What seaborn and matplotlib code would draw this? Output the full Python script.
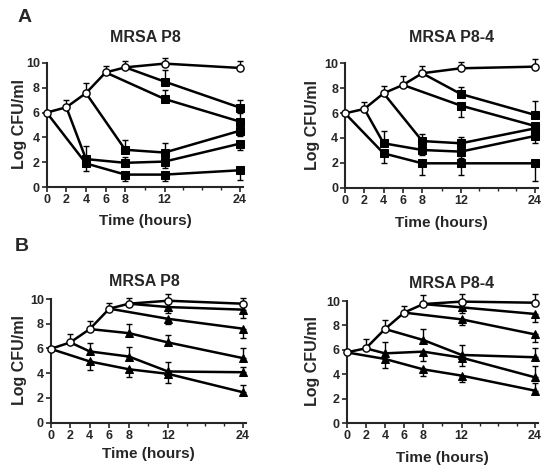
import numpy as np
import matplotlib
matplotlib.use("Agg")
import matplotlib.pyplot as plt
import seaborn as sns

# sampling times (hours)
times = [0, 2, 4, 6, 8, 12, 24]
tick_labels = ["0", "2", "4", "6", "8", "12", "24"]
# times at which the drug was added, and the sampling times that follow
add_times = [0, 2, 4, 6, 8]
after_times = [[4, 8, 12, 24], [4, 8, 12, 24], [8, 12, 24], [12, 24], [12, 24]]

# error values: positive = bar drawn upward, negative = drawn downward
# A, MRSA P8
a_p8_ctrl = [6.0, 6.43, 7.57, 9.24, 9.65, 9.95, 9.6]
a_p8_ctrl_err = [0, 0.6, 0.8, 0.5, 0.55, 0.45, 0.6]
a_p8_drug = [[1.9, 1.0, 1.0, 1.35], [2.25, 1.95, 2.05, 3.5], [3.0, 2.78, 4.54],
             [7.1, 5.27], [8.5, 6.4]]
a_p8_drug_err = [[-0.6, -0.5, -0.5, -0.8], [1.05, 0.45, -0.55, -0.55], [0.78, 0.73, -0.45],
                 [0.7, 0.7], [0.9, 0.6]]

# A, MRSA P8-4
a_p84_ctrl = [5.98, 6.33, 7.59, 8.26, 9.2, 9.6, 9.73]
a_p84_ctrl_err = [0, 0.55, 0.6, 0.75, 0.55, 0.5, 0.6]
a_p84_drug = [[2.76, 1.96, 1.96, 1.96], [3.57, 3.03, 2.9, 4.16], [3.75, 3.57, 4.77],
              [6.6, 4.96], [7.53, 5.85]]
a_p84_drug_err = [[-0.8, -0.95, -0.95, -1.4], [0.95, -0.4, -0.5, -0.55], [0.55, 0.5, 0.3],
                  [-0.9, -0.4], [0.6, 1.15]]

# B, MRSA P8
b_p8_ctrl = [5.97, 6.49, 7.57, 9.22, 9.62, 9.86, 9.62]
b_p8_ctrl_err = [0, 0.7, 0.67, 0.46, 0.5, 0.57, 0.46]
b_p8_drug = [[4.95, 4.32, 3.95, 2.46], [5.76, 5.35, 4.14, 4.08], [7.24, 6.49, 5.22],
             [8.4, 7.6], [9.35, 9.14]]
b_p8_drug_err = [[-0.7, -0.6, -0.76, 0.6], [0.67, 0.75, 0.75, 0.4], [0.73, 0.56, 0.8],
                 [-0.4, -0.75], [-0.5, -0.7]]

# B, MRSA P8-4
b_p84_ctrl = [5.8, 6.13, 7.71, 9.05, 9.75, 9.95, 9.86]
b_p84_ctrl_err = [0, 0.74, 0.7, 0.57, 0.74, 0.62, 0.68]
b_p84_drug = [[5.26, 4.41, 3.9, 2.67], [5.72, 5.86, 5.37, 3.76], [6.81, 5.59, 5.4],
              [8.5, 7.27], [9.48, 8.94]]
b_p84_drug_err = [[-0.76, -0.54, -0.5, 0.6], [0.96, -0.8, -0.7, 0.9], [0.9, 0.82, 0.73],
                  [-0.46, -0.6], [-0.43, -0.63]]

sns.set_style("ticks")
plt.rcParams["font.family"] = ["Liberation Sans", "DejaVu Sans"]
plt.rcParams["font.weight"] = "bold"

W, H = 549, 472
fig = plt.figure(figsize=(W / 100, H / 100), dpi=100)

SQZ = 0.64  # the 12-24 h stretch is drawn compressed


def fwd(t):
    t = np.asarray(t, dtype=float)
    return np.where(t <= 12, t, 12 + (t - 12) * SQZ)


def inv(p):
    p = np.asarray(p, dtype=float)
    return np.where(p <= 12, p, 12 + (p - 12) / SQZ)


XMAX = 24.5
YMAX = 10.8


def make_axes(x0, x24, y0, y10):
    # pixel positions of t=0, t=24, y=0, y=10
    span = float(fwd(24))
    width = (x24 - x0) * float(fwd(XMAX)) / span
    height = (y0 - y10) * YMAX / 10
    return fig.add_axes([x0 / W, 1 - y0 / H, width / W, height / H])


def errbars(ax, x, y, err):
    err = np.asarray(err, dtype=float)
    lower = np.where(err < 0, -err, 0)
    upper = np.where(err > 0, err, 0)
    ax.errorbar(x, y, yerr=[lower, upper], fmt="none", ecolor="black",
                elinewidth=1.0, capsize=2.5, capthick=1.0, zorder=2, clip_on=False)


def draw_panel(ax, title, ctrl, ctrl_err, drug, drug_err, marker,
               title_pad, title_x, xlab_pad, ylab_x):
    for t_add, tt, vals, errs in zip(add_times, after_times, drug, drug_err):
        start = ctrl[times.index(t_add)]
        sns.lineplot(x=[t_add] + tt, y=[start] + vals, ax=ax, color="black",
                     linewidth=1.8, zorder=3)
        sns.lineplot(x=tt, y=vals, ax=ax, color="black", linewidth=0, marker=marker,
                     markersize=6 if marker == "^" else 5.2, markerfacecolor="black",
                     markeredgecolor="black", zorder=4, clip_on=False)
        errbars(ax, tt, vals, errs)
    errbars(ax, times, ctrl, ctrl_err)
    sns.lineplot(x=times, y=ctrl, ax=ax, color="black", linewidth=1.8, marker="o",
                 markersize=5.2, markerfacecolor="white", markeredgecolor="black",
                 markeredgewidth=1.0, zorder=5, clip_on=False)

    ax.set_xscale("function", functions=(fwd, inv))
    ax.set_xlim(0, XMAX)
    ax.set_ylim(0, YMAX)
    ax.set_xticks(times)
    ax.set_xticklabels(tick_labels)
    ax.set_xticks([10, 15, 18, 21], minor=True)
    ax.set_yticks([0, 2, 4, 6, 8, 10])
    ax.spines["left"].set_bounds(0, 10)
    sns.despine(ax=ax)
    for s in ["left", "bottom"]:
        ax.spines[s].set_linewidth(1.5)
    ax.tick_params(which="major", direction="out", length=3.5, width=1.2,
                   labelsize=9, pad=1.5)
    ax.tick_params(which="minor", direction="out", length=2.5, width=1.0)
    for lab in ax.get_xticklabels() + ax.get_yticklabels():
        lab.set_fontweight("bold")
    ax.set_xlabel("Time (hours)", fontsize=11, fontweight="bold", labelpad=xlab_pad)
    ax.set_ylabel("Log CFU/ml", fontsize=11.5, fontweight="bold")
    ax.yaxis.set_label_coords(ylab_x, 0.47)
    ax.set_title(title, fontsize=11.5, fontweight="bold", pad=title_pad, x=title_x)
    ax.set_facecolor("white")


ax1 = make_axes(46.7, 240, 187, 63)
draw_panel(ax1, "MRSA P8", a_p8_ctrl, a_p8_ctrl_err, a_p8_drug, a_p8_drug_err, "s",
           8, 0.5, 5.5, -0.10)
ax2 = make_axes(345, 535, 187.7, 63.3)
draw_panel(ax2, "MRSA P8-4", a_p84_ctrl, a_p84_ctrl_err, a_p84_drug, a_p84_drug_err, "s",
           8, 0.55, 6.5, -0.13)
ax3 = make_axes(50.7, 243, 422.7, 299)
draw_panel(ax3, "MRSA P8", b_p8_ctrl, b_p8_ctrl_err, b_p8_drug, b_p8_drug_err, "^",
           2.5, 0.48, 3.5, -0.12)
ax4 = make_axes(346.7, 535, 423.3, 301)
draw_panel(ax4, "MRSA P8-4", b_p84_ctrl, b_p84_ctrl_err, b_p84_drug, b_p84_drug_err, "^",
           2.5, 0.55, 6, -0.137)

fig.text(18 / W, 1 - 17 / H, "A", fontsize=14, fontweight="bold", va="center")
fig.text(15 / W, 1 - 246 / H, "B", fontsize=14, fontweight="bold", va="center")

fig.savefig("out.png", dpi=100, facecolor="white")
